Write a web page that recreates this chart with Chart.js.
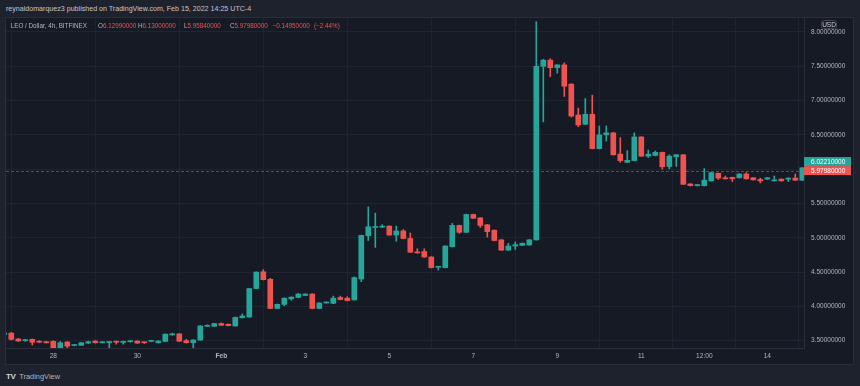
<!DOCTYPE html>
<html>
<head>
<meta charset="utf-8">
<script src="https://cdn.jsdelivr.net/npm/chart.js@4.4.1/dist/chart.umd.min.js"></script>
<style>
  html, body { margin: 0; padding: 0; }
  body { width: 860px; height: 386px; overflow: hidden; position: relative; background: #1e222d; font-family: 'Liberation Sans', Arial, sans-serif; color: #b2b5be; }
  .abs { position: absolute; white-space: nowrap; line-height: 9px; }
  .pane { position: absolute; left: 5px; top: 17px; width: 849px; height: 348px; box-sizing: border-box; border: 1px solid #2a2e39; background: #161a25; }
  #wrap { position: absolute; left: 6px; top: 18px; width: 847px; height: 346px; }
  .hdr { font-size: 7.1px; color: #c3c6ce; }
  .leg { font-size: 6.3px; color: #b2b5be; }
  .red { color: #ef5350; }
</style>
</head>
<body>
<div class="abs hdr" style="left:6px; top:4.5px;">reynaldomarquez3 published on TradingView.com, Feb 15, 2022 14:25 UTC-4</div>
<div class="pane"></div>
<div id="wrap"><canvas id="myChart" width="847" height="346"></canvas></div>
<div class="abs leg" style="left:10.7px; top:20.5px;">LEO / Dollar, 4h, BITFINEX</div>
<div class="abs leg" style="left:98px; top:20.5px;">O<span class="red">6.12990000</span></div>
<div class="abs leg" style="left:138px; top:20.5px;">H<span class="red">6.13000000</span></div>
<div class="abs leg" style="left:184px; top:20.5px;">L<span class="red">5.95840000</span></div>
<div class="abs leg" style="left:230px; top:20.5px;">C<span class="red">5.97980000</span></div>
<div class="abs leg red" style="left:272.7px; top:20.5px;">−0.14950000</div>
<div class="abs leg red" style="left:314px; top:20.5px;">(−2.44%)</div>
<div class="abs" style="left:6px; top:371.5px; font-size:8px; font-weight:900; letter-spacing:-0.5px; color:#d1d4dc;">TV</div>
<div class="abs" style="left:19.3px; top:371.5px; font-size:7.4px; color:#b2b5be;">TradingView</div>
<script>
// 4h candles, Jan 26 20:00 -> Feb 14 20:00
const days = ['Jan 26', 'Jan 27', 'Jan 28', 'Jan 29', 'Jan 30', 'Jan 31', 'Feb 1', 'Feb 2', 'Feb 3', 'Feb 4',
    'Feb 5', 'Feb 6', 'Feb 7', 'Feb 8', 'Feb 9', 'Feb 10', 'Feb 11', 'Feb 12', 'Feb 13', 'Feb 14'];
const hours = ['00:00', '04:00', '08:00', '12:00', '16:00', '20:00'];
const times = days.flatMap(d => hours.map(h => d + ' ' + h)).slice(5);

const opens = [
    3.59, 3.61, 3.525, 3.50, 3.52, 3.49, 3.485,
    3.49, 3.395, 3.48, 3.43, 3.432, 3.465, 3.495, 3.47, 3.473, 3.49, 3.475, 3.485, 3.495, 3.48, 3.49, 3.47,
    3.49, 3.585, 3.60, 3.50, 3.47, 3.51, 3.71, 3.71, 3.75, 3.74, 3.715, 3.835, 3.845, 4.26, 4.505, 4.395,
    3.97, 4.03, 4.11, 4.13, 4.16, 4.18, 3.97, 4.05, 4.045, 4.13, 4.12, 4.095, 4.40, 5.03, 5.15, 5.155,
    5.17, 5.04, 5.10, 4.99, 4.795, 4.80, 4.72, 4.57, 4.565, 4.87, 5.18, 5.08, 5.34, 5.29, 5.19, 5.11,
    4.97, 4.82, 4.88, 4.89, 4.895, 4.97, 7.50, 7.59, 7.48, 7.52, 7.24, 6.79, 6.655, 6.80, 6.30, 6.50,
    6.53, 6.22, 6.10, 6.125, 6.47, 6.19, 6.20, 6.245, 6.04, 6.18, 6.21, 5.785, 5.76, 5.76, 5.83, 5.94,
    5.87, 5.88, 5.875, 5.93, 5.875, 5.85, 5.855, 5.83, 5.855, 5.855, 5.87, 5.84
];
const highs = [
    3.62, 3.62, 3.535, 3.52, 3.525, 3.50, 3.49,
    3.50, 3.49, 3.49, 3.44, 3.475, 3.495, 3.50, 3.485, 3.49, 3.495, 3.495, 3.50, 3.50, 3.485, 3.50, 3.50,
    3.60, 3.61, 3.605, 3.52, 3.515, 3.72, 3.73, 3.755, 3.76, 3.745, 3.845, 3.89, 4.265, 4.505, 4.535, 4.41,
    4.035, 4.125, 4.14, 4.19, 4.185, 4.185, 4.055, 4.065, 4.15, 4.15, 4.14, 4.43, 5.04, 5.45, 5.36, 5.19,
    5.175, 5.17, 5.12, 5.07, 4.84, 4.84, 4.725, 4.585, 4.885, 5.21, 5.185, 5.345, 5.345, 5.295, 5.195, 5.115,
    4.975, 4.92, 4.94, 4.925, 4.975, 8.15, 7.60, 7.61, 7.525, 7.55, 7.245, 6.89, 7.03, 7.08, 6.63, 6.63,
    6.535, 6.46, 6.27, 6.53, 6.475, 6.28, 6.265, 6.25, 6.21, 6.215, 6.215, 5.79, 5.78, 6.01, 5.955, 5.945,
    5.90, 5.885, 5.935, 5.95, 5.88, 5.87, 5.88, 5.90, 5.86, 5.875, 5.93, 6.025
];
const lows = [
    3.58, 3.51, 3.49, 3.49, 3.437, 3.47, 3.465,
    3.39, 3.39, 3.40, 3.425, 3.43, 3.455, 3.465, 3.465, 3.39, 3.45, 3.45, 3.48, 3.46, 3.46, 3.485, 3.465,
    3.485, 3.58, 3.49, 3.465, 3.39, 3.505, 3.705, 3.705, 3.72, 3.715, 3.71, 3.83, 3.84, 4.255, 4.385, 3.965,
    3.965, 4.01, 4.09, 4.125, 4.155, 3.965, 3.965, 4.045, 4.04, 4.095, 4.08, 4.09, 4.36, 4.96, 4.86, 5.15,
    5.035, 4.95, 4.985, 4.785, 4.775, 4.715, 4.56, 4.53, 4.56, 4.865, 5.065, 5.075, 5.28, 5.15, 5.01, 4.955,
    4.815, 4.815, 4.83, 4.885, 4.89, 4.965, 6.69, 7.35, 7.40, 7.06, 6.76, 6.62, 6.65, 6.295, 6.295, 6.41,
    6.205, 6.10, 6.095, 6.12, 6.185, 6.17, 6.195, 6.00, 6.005, 6.04, 5.775, 5.755, 5.755, 5.755, 5.825, 5.85,
    5.855, 5.82, 5.87, 5.855, 5.84, 5.80, 5.85, 5.825, 5.825, 5.82, 5.835, 5.835
];
const closes = [
    3.61, 3.52, 3.495, 3.515, 3.477, 3.478, 3.47,
    3.395, 3.47, 3.42, 3.437, 3.47, 3.485, 3.47, 3.48, 3.485, 3.478, 3.49, 3.495, 3.465, 3.47, 3.497, 3.495,
    3.595, 3.60, 3.493, 3.47, 3.51, 3.715, 3.725, 3.75, 3.725, 3.72, 3.84, 3.86, 4.26, 4.50, 4.39, 3.97,
    4.03, 4.12, 4.135, 4.18, 4.18, 3.97, 4.05, 4.06, 4.12, 4.10, 4.085, 4.42, 5.035, 5.16, 5.16, 5.165,
    5.04, 5.10, 4.99, 4.79, 4.78, 4.72, 4.565, 4.58, 4.88, 5.18, 5.08, 5.34, 5.285, 5.18, 5.09, 4.96,
    4.82, 4.88, 4.90, 4.92, 4.97, 7.50, 7.59, 7.48, 7.52, 7.21, 6.775, 6.645, 6.80, 6.30, 6.50, 6.53,
    6.21, 6.125, 6.13, 6.47, 6.19, 6.22, 6.245, 6.035, 6.19, 6.21, 5.78, 5.76, 5.775, 5.84, 5.95, 5.87,
    5.86, 5.86, 5.93, 5.86, 5.845, 5.83, 5.875, 5.84, 5.83, 5.87, 5.84, 6.02
];

const xTickTimes = ['Jan 28 00:00', 'Jan 30 00:00', 'Feb 1 00:00', 'Feb 3 00:00', 'Feb 5 00:00',
    'Feb 7 00:00', 'Feb 9 00:00', 'Feb 11 00:00', 'Feb 12 12:00', 'Feb 14 00:00'];
const xTickText = ['28', '30', 'Feb', '3', '5', '7', '9', '11', '12:00', '14'];
const yTicks = [3.5, 4.0, 4.5, 5.0, 5.5, 6.0, 6.5, 7.0, 7.5, 8.0];

const lastPrice = 5.9798;
const prevPrice = 6.0221;

const UP = '#26a69a';
const DOWN = '#ef5350';
const GRID = '#202431';
const TEXT = '#b2b5be';
const FONT = "'Liberation Sans', Arial, sans-serif";

const colors = opens.map((o, i) => closes[i] >= o ? UP : DOWN);

const priceMarks = {
    id: 'priceMarks',
    beforeDatasetsDraw(chart) {
        const { ctx, chartArea, scales } = chart;
        const y = Math.round(scales.y.getPixelForValue(lastPrice)) + 0.5;
        ctx.save();
        ctx.strokeStyle = 'rgba(180, 60, 62, 0.8)';
        ctx.lineWidth = 1;
        ctx.setLineDash([3, 2]);
        ctx.beginPath();
        ctx.moveTo(chartArea.left, y);
        ctx.lineTo(chartArea.right, y);
        ctx.stroke();
        ctx.restore();
    },
    afterDraw(chart) {
        const { ctx, chartArea, scales } = chart;
        const x = chartArea.right;
        const redY = scales.y.getPixelForValue(lastPrice);
        const h = 9;
        ctx.save();
        ctx.font = '6.5px ' + FONT;
        ctx.textBaseline = 'middle';
        ctx.textAlign = 'left';
        // red label (last close)
        ctx.fillStyle = DOWN;
        ctx.fillRect(x, redY - h / 2, 47, h);
        ctx.fillStyle = '#ffffff';
        ctx.fillText(lastPrice.toFixed(8), x + 7, redY + 0.5);
        // teal label pushed above
        const tealTop = redY - h / 2 - h;
        ctx.fillStyle = UP;
        ctx.fillRect(x, tealTop, 47, h);
        ctx.fillStyle = '#ffffff';
        ctx.fillText(prevPrice.toFixed(8), x + 7, tealTop + h / 2 + 0.5);
        // USD box
        ctx.fillStyle = '#161a25';
        ctx.strokeStyle = '#434651';
        ctx.lineWidth = 1;
        ctx.beginPath();
        ctx.roundRect(815.5, 2.5, 15, 8, 2);
        ctx.fill();
        ctx.stroke();
        ctx.fillStyle = '#d1d4dc';
        ctx.textAlign = 'center';
        ctx.fillText('USD', 823, 7);
        ctx.restore();
    }
};

const ctx = document.getElementById('myChart');
const myChart = new Chart(ctx, {
    type: 'bar',
    data: {
        datasets: [{
            label: 'body',
            data: opens.map((o, i) => ({ x: i, y: [o, closes[i]] })),
            backgroundColor: colors,
            barThickness: 5,
            minBarLength: 1,
            grouped: false
        }, {
            label: 'wick',
            data: lows.map((l, i) => ({ x: i, y: [l, highs[i]] })),
            backgroundColor: colors,
            barThickness: 1,
            grouped: false
        }]
    },
    options: {
        responsive: false,
        animation: false,
        layout: { padding: 0 },
        plugins: {
            legend: { display: false },
            tooltip: { enabled: false }
        },
        scales: {
            x: {
                type: 'linear',
                min: 0.243,
                max: 114.243,
                offset: false,
                afterBuildTicks(scale) {
                    scale.ticks = xTickTimes.map(t => ({ value: times.indexOf(t) }));
                },
                afterFit(scale) {
                    scale.height = 16;
                    scale.paddingLeft = 0;
                    scale.paddingRight = 0;
                },
                grid: { color: GRID, drawTicks: false },
                border: { color: '#2a2e39' },
                ticks: {
                    autoSkip: false,
                    maxRotation: 0,
                    padding: 4,
                    color: TEXT,
                    font: c => ({ family: FONT, size: 6.6, weight: xTickText[c.index] === 'Feb' ? 'bold' : 'normal' }),
                    callback: (v) => xTickText[xTickTimes.indexOf(times[v])]
                }
            },
            y: {
                position: 'right',
                min: 3.3936,
                max: 8.204,
                afterBuildTicks(scale) {
                    scale.ticks = yTicks.map(v => ({ value: v }));
                },
                afterFit(scale) {
                    scale.width = 49;
                    scale.paddingTop = 0;
                    scale.paddingBottom = 0;
                },
                grid: { color: GRID, drawTicks: false },
                border: { color: '#2a2e39' },
                ticks: {
                    padding: 7,
                    color: TEXT,
                    font: { family: FONT, size: 6.5 },
                    callback: v => v.toFixed(8)
                }
            }
        }
    },
    plugins: [priceMarks]
});
</script>
</body>
</html>
